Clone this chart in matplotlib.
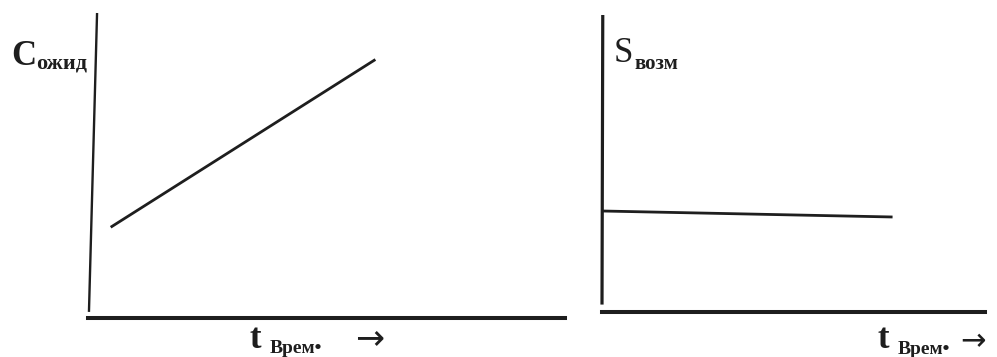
import numpy as np
import matplotlib.pyplot as plt

plt.rcParams['font.family'] = ['Liberation Serif', 'DejaVu Serif']

# left chart: expected value grows with time
t_exp = [0.5, 6.0]
c_exp = [3.0, 8.45]
# right chart: opportunity stays almost flat
t_opp = [0.03, 7.55]
s_opp = [3.4, 3.2]

W, H = 997, 357
ink = "#1e1e1e"

def fx(px):
        return px/W
def fy(py):
        return 1-py/H

fig = plt.figure(figsize=(W/100, H/100), dpi=100)

ax1 = fig.add_axes([fx(88), fy(318), 477/W, 305/H])
ax2 = fig.add_axes([fx(602), fy(312), 383/W, 297/H])

for ax in (ax1, ax2):
        ax.set_xlim(0, 10)
        ax.set_ylim(0, 10)
        ax.set_xticks([])
        ax.set_yticks([])
        for s in ("top", "right", "left"):
                ax.spines[s].set_visible(False)
        ax.spines["bottom"].set_linewidth(2.9)
        ax.spines["bottom"].set_color(ink)
        ax.patch.set_alpha(0)

# hand drawn looking y axes
ax1.plot([0.019, 0.002], [1.0, 0.02], color=ink, lw=1.7,
         transform=ax1.transAxes, clip_on=False, solid_capstyle="butt")
ax2.plot([0.002, 0.0], [1.0, 0.025], color=ink, lw=2.3,
         transform=ax2.transAxes, clip_on=False, solid_capstyle="butt")

ax1.plot(t_exp, c_exp, color=ink, lw=2.0)
ax2.plot(t_opp, s_opp, color=ink, lw=2.0)

# labels
fig.text(fx(11), fy(65), "C", fontsize=25, fontweight="bold", color=ink, va="baseline")
fig.text(fx(36), fy(69), "ожид", fontsize=16, fontweight="bold", color=ink, va="baseline")
fig.text(fx(614), fy(62), "S", fontsize=25, color=ink, va="baseline")
fig.text(fx(634), fy(69), "возм", fontsize=15, fontweight="bold", color=ink, va="baseline")

fig.text(fx(249), fy(348), "t", fontsize=25, fontweight="bold", color=ink, va="baseline")
fig.text(fx(270), fy(353), "Врем•", fontsize=14, fontweight="bold", color=ink, va="baseline")
fig.text(fx(355), fy(348), "→", fontsize=25, color=ink, va="baseline",
         family=["DejaVu Sans"])

fig.text(fx(877), fy(348), "t", fontsize=25, fontweight="bold", color=ink, va="baseline")
fig.text(fx(898), fy(354), "Врем•", fontsize=14, fontweight="bold", color=ink, va="baseline")
fig.text(fx(960), fy(350), "→", fontsize=22, color=ink, va="baseline",
         family=["DejaVu Sans"])

plt.savefig("out.png", dpi=100)
